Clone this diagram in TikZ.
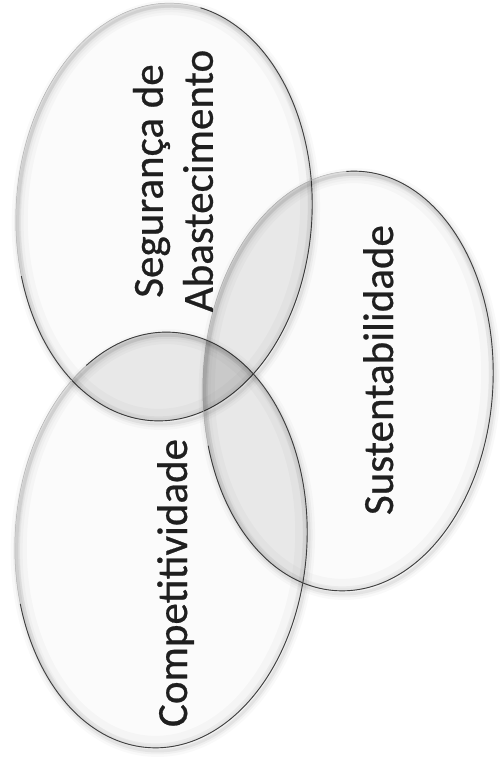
\documentclass[tikz,border=0pt]{standalone}
\usepackage{fontspec}
\setmainfont{Carlito}
\newfontfamily\labelfont[FakeBold=0.6]{Carlito}
\begin{document}
\begin{tikzpicture}[x=1pt,y=1pt,
  labeltext/.style={text=black!88, font=\labelfont\fontsize{43}{50}\selectfont,
    rotate=90, inner sep=0pt, align=center},
  seg/.style={insert path={(164,551) ellipse [x radius=148, y radius=209, rotate=-3]}},
  sus/.style={insert path={(348,382) ellipse [x radius=145, y radius=210, rotate=-3]}},
  com/.style={insert path={(161,223) ellipse [x radius=146, y radius=208, rotate=-3]}},
]
\useasboundingbox (0,0) rectangle (499,763);
\fill[white] (0,0) rectangle (499,763);

% one glass disc: soft shadow, pale body, inner glow, rim
\newcommand{\glassdisc}[5]{%
  \begin{scope}[shift={(#1)}, rotate=#4]
    \foreach \w/\o in {12/0.025, 7/0.035, 3/0.05}
      \draw[black, opacity=\o, line width=\w pt] (2,-3) ellipse [x radius=#2, y radius=#3];
    \fill[black, opacity=0.015] (0,0) ellipse [x radius=#2, y radius=#3];
    \begin{scope}
      \clip (0,0) ellipse [x radius=#2, y radius=#3];
      \draw[black, opacity=0.025, line width=24pt] (0,0) ellipse [x radius=#2, y radius=#3];
      \draw[black, opacity=0.04, line width=9pt] (0,0) ellipse [x radius=#2, y radius=#3];
    \end{scope}
    \draw[black!30, line width=0.5pt] (0,0) ellipse [x radius=#2, y radius=#3];
    \draw[black!75, line width=0.9pt] (#5:#2 and #3)
      arc[start angle=#5, end angle=-160, x radius=#2, y radius=#3];
  \end{scope}}

\glassdisc{164,551}{148}{209}{-3}{80}
\glassdisc{348,382}{145}{210}{-3}{95}
\glassdisc{161,223}{146}{208}{-3}{125}

% grey shading where the discs overlap
\begin{scope}
  \clip[seg];
  \fill[black, opacity=0.06][sus];
\end{scope}
\begin{scope}
  \clip[seg];
  \fill[black, opacity=0.06][com];
\end{scope}
\begin{scope}
  \clip[sus];
  \fill[black, opacity=0.06][com];
\end{scope}

\node[labeltext] (segtxt) at (173,582) {Segurança de\\Abastecimento};
\node[labeltext, anchor=base] (sustxt) at (393,393) {Sustentabilidade};
\node[labeltext, anchor=base] (comtxt) at (187,180) {Competitividade};
\end{tikzpicture}
\end{document}
